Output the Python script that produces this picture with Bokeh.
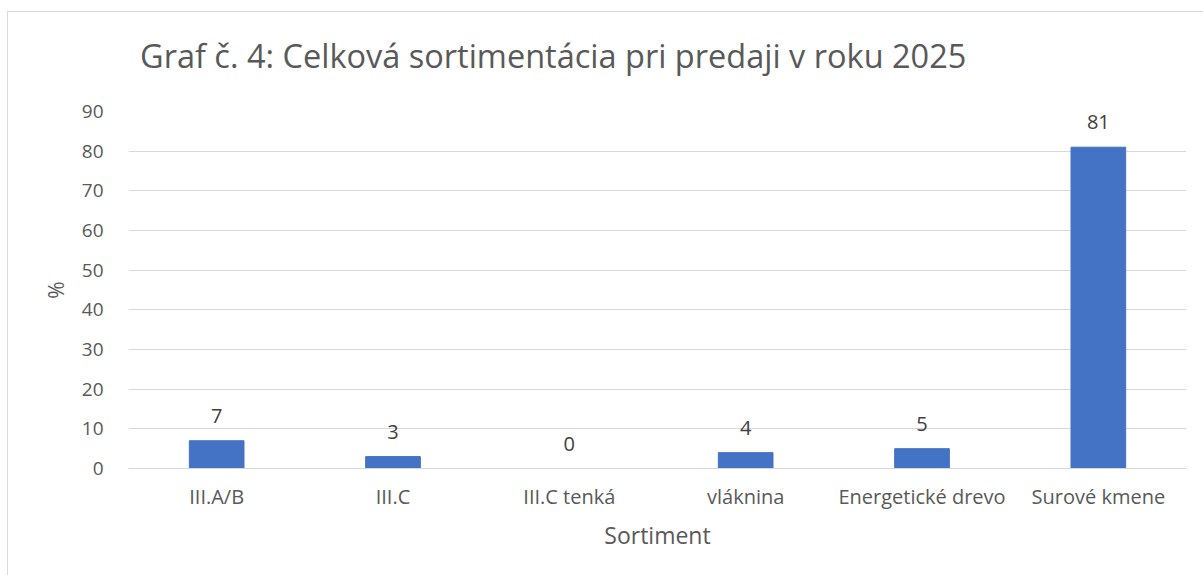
from bokeh.plotting import figure
from bokeh.models import ColumnDataSource, SingleIntervalTicker, Div
from bokeh.layouts import column
from bokeh.core.properties import value
from bokeh.embed import file_html
from bokeh.resources import INLINE

categories = ["III.A/B", "III.C", "III.C tenká", "vláknina", "Energetické drevo", "Surové kmene"]
values = [7, 3, 0, 4, 5, 81]
labels = [str(v) for v in values]
title_text = "Graf č. 4: Celková sortimentácia pri predaji v roku 2025"

FONT = "Open Sans"
TXT = "#595959"

src = ColumnDataSource(dict(cat=categories, val=values, lab=labels))

head = Div(text=('<div style="padding: 19px 0 0 127px; font-family: \'Open Sans\'; '
                 'font-size: 32.5px; line-height: 40px; color: #595959; '
                 'white-space: nowrap;">' + title_text + '</div>'),
           width=1195, height=60)

p = figure(x_range=categories, y_range=(0, 90), width=1195, height=494,
           output_backend="svg", toolbar_location=None)
p.min_border_left = 120
p.min_border_right = 17
p.min_border_top = 29
p.min_border_bottom = 108
p.outline_line_color = None
p.background_fill_color = "white"
p.border_fill_color = "white"

p.vbar(x="cat", top="val", width=0.31, source=src, color="#4472C4")
p.text(x="cat", y="val", text="lab", source=src, text_align="center",
       text_baseline="alphabetic", y_offset=-25, text_font=value(FONT),
       text_font_size="20px", text_color="#404040")

p.yaxis.ticker = SingleIntervalTicker(interval=10)
p.yaxis.axis_line_color = None
p.yaxis.major_tick_line_color = None
p.yaxis.minor_tick_line_color = None
p.yaxis.major_label_text_font = FONT
p.yaxis.major_label_text_font_size = "19px"
p.yaxis.major_label_text_color = TXT
p.yaxis.major_label_standoff = 19
p.yaxis.axis_label = "%"
p.yaxis.axis_label_text_font = FONT
p.yaxis.axis_label_text_font_size = "21px"
p.yaxis.axis_label_text_font_style = "normal"
p.yaxis.axis_label_text_color = TXT
p.yaxis.axis_label_standoff = 9

p.xaxis.axis_line_color = "#d9d9d9"
p.xaxis.axis_line_width = 1
p.xaxis.major_tick_line_color = None
p.xaxis.minor_tick_line_color = None
p.xaxis.major_label_text_font = FONT
p.xaxis.major_label_text_font_size = "20px"
p.xaxis.major_label_text_color = TXT
p.xaxis.major_label_standoff = 8
p.xaxis.axis_label = "Sortiment"
p.xaxis.axis_label_text_font = FONT
p.xaxis.axis_label_text_font_size = "23px"
p.xaxis.axis_label_text_font_style = "normal"
p.xaxis.axis_label_text_color = TXT
p.xaxis.axis_label_standoff = 6

p.xgrid.grid_line_color = None
p.ygrid.grid_line_color = "#d9d9d9"
p.ygrid.grid_line_width = 1
p.x_range.range_padding = 0

layout = column(head, p, spacing=0,
                styles={"border-top": "1px solid #d9d9d9",
                        "border-left": "1px solid #d9d9d9",
                        "margin-left": "7px", "margin-top": "11px",
                        "background-color": "white"})

open("out.html", "w").write(file_html(layout, INLINE))
